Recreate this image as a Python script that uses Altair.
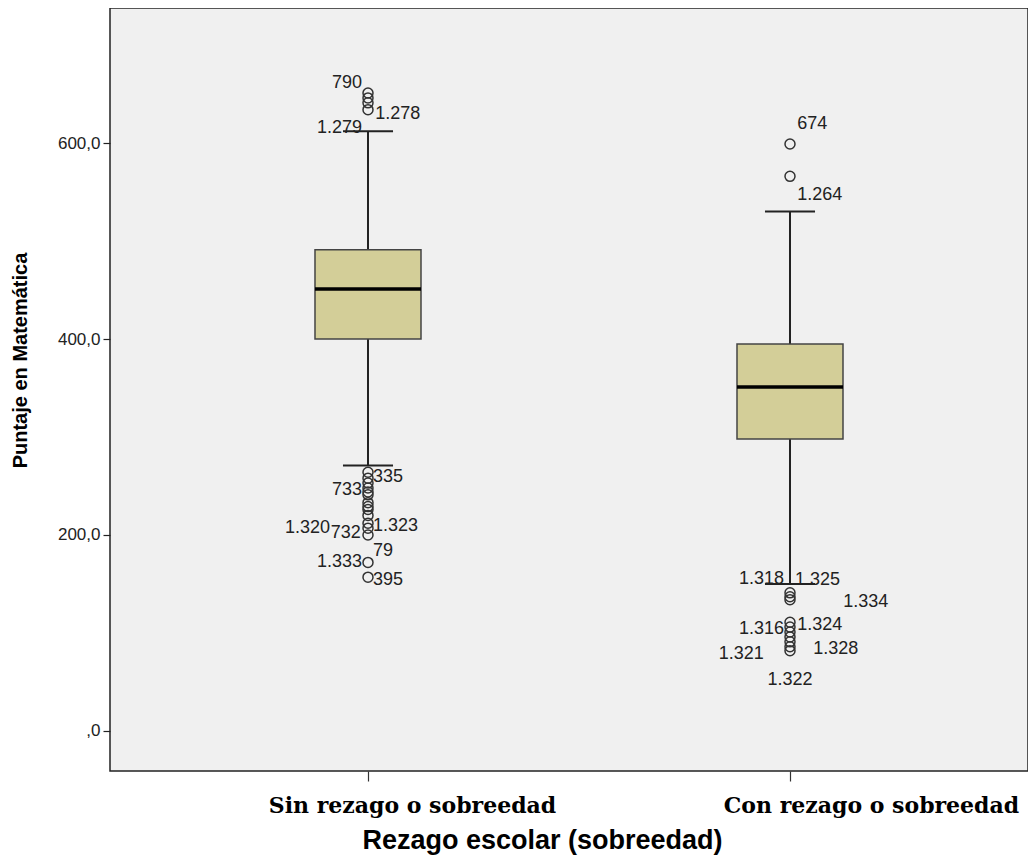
import altair as alt
import pandas as pd

# ---------------- data ----------------
groups = ["Sin rezago o sobreedad", "Con rezago o sobreedad"]
group_pos = [1, 2]
q1 = [400, 298]
median = [451, 351]
q3 = [491, 395]
whisker_low = [271, 150]
whisker_high = [612, 530]

outliers_sin = [651, 646, 641, 634, 264, 258, 253, 248, 244, 241, 233, 229,
                226, 220, 212, 207, 200, 172, 157]
outliers_con = [599, 566, 141, 137, 134, 111, 106, 101, 96, 91, 86, 82]

label_text = ["790", "1.278", "1.279", "335", "733", "1.320", "732", "1.323",
              "79", "1.333", "395",
              "674", "1.264", "1.318", "1.325", "1.334", "1.316", "1.324",
              "1.321", "1.328", "1.322"]
label_x = [0.986, 1.017, 0.986, 1.012, 0.986, 0.910, 0.983, 1.012,
           1.012, 0.986, 1.012,
           2.017, 2.017, 1.986, 2.012, 2.126, 1.986, 2.017,
           1.938, 2.055, 2.000]
label_y = [661, 630, 615, 259, 246, 207, 202, 209, 184, 172, 154,
           619, 547, 155, 154, 132, 104, 108, 79, 84, 52]
label_align = ["right", "left", "right", "left", "right", "right", "right", "left",
               "left", "right", "left",
               "left", "left", "right", "left", "left", "right", "left",
               "right", "left", "center"]

y_ticks = [0, 200, 400, 600]

# ---------------- tables ----------------
box_df = pd.DataFrame({"g": group_pos, "name": groups, "q1": q1, "median": median,
                       "q3": q3, "lo": whisker_low, "hi": whisker_high})
out_df = pd.DataFrame({"g": [1] * len(outliers_sin) + [2] * len(outliers_con),
                       "v": outliers_sin + outliers_con})
lab_df = pd.DataFrame({"t": label_text, "x": label_x, "y": label_y, "al": label_align})

# ---------------- scales / axes ----------------
x_scale = alt.Scale(domain=[0.38863, 2.56398], nice=False, zero=False)
y_scale = alt.Scale(domain=[-40.82, 737.76], nice=False, zero=False)

label_expr = " : ".join(
    [f"datum.value == {p} ? '{n}'" for p, n in zip(group_pos, groups)]) + " : ''"

x_axis = alt.Axis(values=group_pos, labelExpr=label_expr, title="Rezago escolar (sobreedad)",
                  domain=False, grid=False, tickSize=10, tickColor="#333", tickWidth=1.2,
                  labelFont="DejaVu Serif", labelFontWeight="bold", labelFontSize=22,
                  labelColor="#000", labelPadding=14, labelFlush=False, labelOverlap=False,
                  labelLimit=0,
                  labelOffset={"condition": {"test": "datum.value == 1", "value": 44},
                               "value": 81},
                  titleFont="Liberation Sans", titleFontWeight="bold", titleFontSize=27,
                  titleColor="#000", titleX=432, titleY=77, titleAlign="center",
                  titleBaseline="alphabetic", titleLimit=0)
y_axis = alt.Axis(values=y_ticks, labelExpr="datum.value == 0 ? ',0' : datum.value + ',0'",
                  title="Puntaje en Matemática", domain=False, grid=False, tickSize=7,
                  tickColor="#222", tickWidth=1.2, labelFont="Liberation Sans",
                  labelFontSize=17, labelColor="#222", labelPadding=3,
                  titleFont="Liberation Sans", titleFontWeight="bold", titleFontSize=20,
                  titleColor="#000", titleX=-90, titleY=352, titleAngle=-90,
                  titleAlign="center", titleBaseline="middle")


def X(f):
    return alt.X(f, type="quantitative", scale=x_scale, axis=x_axis)


def Y(f):
    return alt.Y(f, type="quantitative", scale=y_scale, axis=y_axis)


base = alt.Chart(box_df).transform_calculate(
    bl="datum.g - 0.1256", br="datum.g + 0.1256",
    cl="datum.g - 0.0593", cr="datum.g + 0.0593")

whisk = base.mark_rule(color="#222", strokeWidth=2).encode(
    x=X("g"), y=Y("lo"), y2="hi")
cap_hi = base.mark_rule(color="#222", strokeWidth=2).encode(
    x=X("cl"), x2="cr", y=Y("hi"))
cap_lo = base.mark_rule(color="#222", strokeWidth=2).encode(
    x=X("cl"), x2="cr", y=Y("lo"))
box = base.mark_bar(fill="#D3CE98", stroke="#444", strokeWidth=1.5).encode(
    x=X("bl"), x2="br", y=Y("q1"), y2="q3")
med = base.mark_rule(color="#000", strokeWidth=3.5).encode(
    x=X("bl"), x2="br", y=Y("median"))

pts = alt.Chart(out_df).mark_point(shape="circle", filled=False, size=100,
                                   stroke="#333", strokeWidth=1.5, opacity=1).encode(
    x=X("g"), y=Y("v"))

texts = []
for al in ["left", "right", "center"]:
    texts.append(
        alt.Chart(lab_df).transform_filter(f"datum.al == '{al}'").mark_text(
            align=al, baseline="middle", font="Liberation Sans", fontSize=18,
            color="#222").encode(x=X("x"), y=Y("y"), text="t:N"))

chart = alt.layer(whisk, cap_hi, cap_lo, box, med, pts, *texts).properties(
    width=918, height=763,
    autosize=alt.AutoSizeParams(type="none"),
    padding={"left": 102, "top": 0, "right": 0, "bottom": 90},
    background="#ffffff",
).configure_view(fill="#F0F0F0", stroke="#222", strokeWidth=1.5)

chart.save("out.html", embed_options={"renderer": "svg", "actions": False})
